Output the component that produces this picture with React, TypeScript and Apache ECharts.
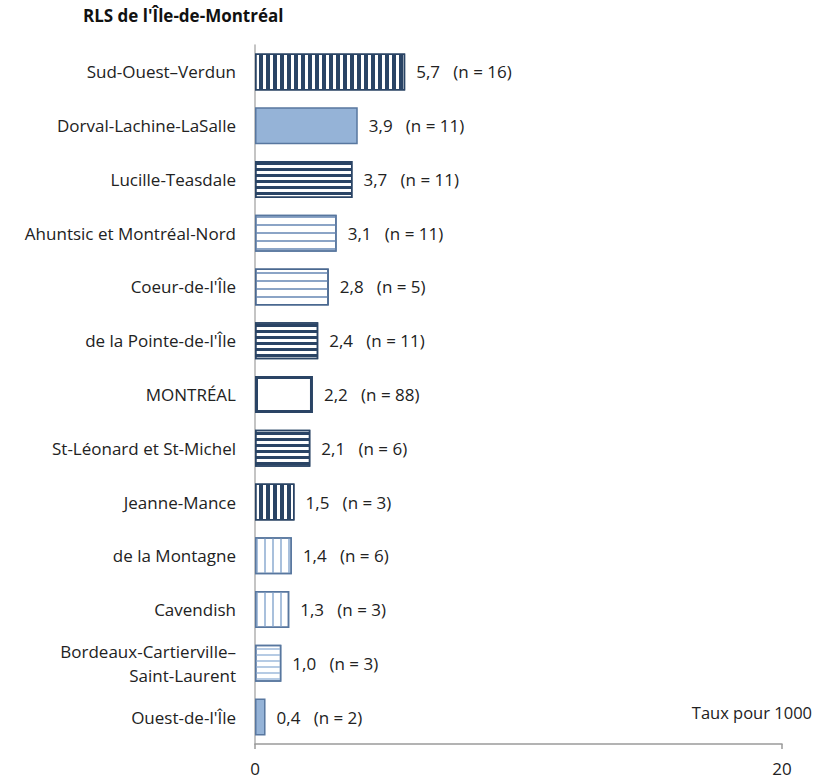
import React, { useEffect, useRef } from "react";
import * as echarts from "echarts";

const categories = [
  "Sud-Ouest–Verdun",
  "Dorval-Lachine-LaSalle",
  "Lucille-Teasdale",
  "Ahuntsic et Montréal-Nord",
  "Coeur-de-l'Île",
  "de la Pointe-de-l'Île",
  "MONTRÉAL",
  "St-Léonard et St-Michel",
  "Jeanne-Mance",
  "de la Montagne",
  "Cavendish",
  "Bordeaux-Cartierville–\nSaint-Laurent",
  "Ouest-de-l'Île",
];
const rates = [5.7, 3.9, 3.7, 3.1, 2.8, 2.4, 2.2, 2.1, 1.5, 1.4, 1.3, 1.0, 0.4];
const counts = [16, 11, 11, 11, 5, 11, 88, 6, 3, 6, 3, 3, 2];
const xTicks = [0, 20];

const DARK = "#2a4465";
const MID = "#58779f";
const LIGHT = "#95b3d7";
const PALE = "#8ba4c6";
const PALER = "#a9c0dc";
const PALEST = "#b6cbe4";

type Kind = "v" | "h" | "solid" | "empty";
const styles: { kind: Kind; line: string; w: number; gap: number; border: string; bw: number }[] = [
  { kind: "v", line: DARK, w: 4, gap: 3, border: DARK, bw: 1.5 },
  { kind: "solid", line: LIGHT, w: 0, gap: 0, border: MID, bw: 1.5 },
  { kind: "h", line: DARK, w: 3, gap: 2.5, border: DARK, bw: 1.5 },
  { kind: "h", line: PALE, w: 2, gap: 5.5, border: MID, bw: 1.5 },
  { kind: "h", line: PALE, w: 2, gap: 5.5, border: "#4a6890", bw: 1.5 },
  { kind: "h", line: DARK, w: 3, gap: 2.5, border: DARK, bw: 1.5 },
  { kind: "empty", line: DARK, w: 0, gap: 0, border: DARK, bw: 3 },
  { kind: "h", line: DARK, w: 3, gap: 2.5, border: DARK, bw: 1.5 },
  { kind: "v", line: DARK, w: 4, gap: 3, border: DARK, bw: 1.5 },
  { kind: "v", line: PALER, w: 2, gap: 6, border: MID, bw: 1.5 },
  { kind: "v", line: PALER, w: 2, gap: 6, border: MID, bw: 1.5 },
  { kind: "h", line: PALEST, w: 2, gap: 4, border: MID, bw: 1.5 },
  { kind: "solid", line: LIGHT, w: 0, gap: 0, border: MID, bw: 1.5 },
];

const FONT = "'Open Sans', Lato, sans-serif";

function fmt(v: number) {
  return v.toFixed(1).replace(".", ",");
}

export default function App() {
  const ref = useRef<HTMLDivElement>(null);
  useEffect(() => {
    if (!ref.current) return;
    const chart = echarts.init(ref.current, undefined, { renderer: "svg" });
    const data = rates.map((v, i) => {
      const s = styles[i];
      const itemStyle: any = {
        color: s.kind === "solid" ? s.line : "#ffffff",
        borderColor: s.border,
        borderWidth: s.bw,
      };
      if (s.kind === "v") {
        itemStyle.decal = {
          symbol: "rect",
          symbolSize: 1,
          color: s.line,
          dashArrayX: [s.w, s.gap],
          dashArrayY: [10, 0],
        };
      } else if (s.kind === "h") {
        itemStyle.decal = {
          symbol: "rect",
          symbolSize: 1,
          color: s.line,
          dashArrayX: [10, 0],
          dashArrayY: [s.w, s.gap],
        };
      }
      return { value: v, itemStyle };
    });
    chart.setOption({
      animation: false,
      grid: { left: 255, right: 33, top: 45, bottom: 35 },
      xAxis: {
        type: "value",
        min: xTicks[0],
        max: xTicks[xTicks.length - 1],
        interval: 20,
        splitLine: { show: false },
        axisLine: { show: true, lineStyle: { color: "#9a9a9a", width: 1.5 } },
        axisTick: { show: true, length: 5, lineStyle: { color: "#9a9a9a", width: 1.5 } },
        axisLabel: { color: "#222", fontSize: 17, fontFamily: FONT, margin: 16 },
      },
      yAxis: {
        type: "category",
        data: categories,
        inverse: true,
        axisLine: { show: true, lineStyle: { color: "#b0b0b0", width: 1.5 } },
        axisTick: { show: false },
        axisLabel: {
          color: "#222",
          fontSize: 17,
          fontFamily: FONT,
          margin: 19,
          lineHeight: 24,
          align: "right",
        },
      },
      series: [
        {
          type: "bar",
          data,
          barWidth: 37,
          label: {
            show: true,
            position: "right",
            distance: 11,
            color: "#222",
            fontSize: 17,
            fontFamily: FONT,
            formatter: (p: any) => `${fmt(rates[p.dataIndex])}   (n = ${counts[p.dataIndex]})`,
          },
        },
      ],
      graphic: [
        {
          type: "text",
          left: 83,
          top: 7,
          style: {
            text: "RLS de l'Île-de-Montréal",
            fontSize: 17,
            fontWeight: "bold",
            fontFamily: FONT,
            fill: "#111",
          },
        },
        {
          type: "text",
          right: 3,
          top: 704,
          style: {
            text: "Taux pour 1000",
            fontSize: 16.5,
            fontFamily: FONT,
            fill: "#222",
          },
        },
      ],
    });
    return () => chart.dispose();
  }, []);
  return <div ref={ref} style={{ width: 815, height: 779, position: "absolute", left: 0, top: 0 }} />;
}
